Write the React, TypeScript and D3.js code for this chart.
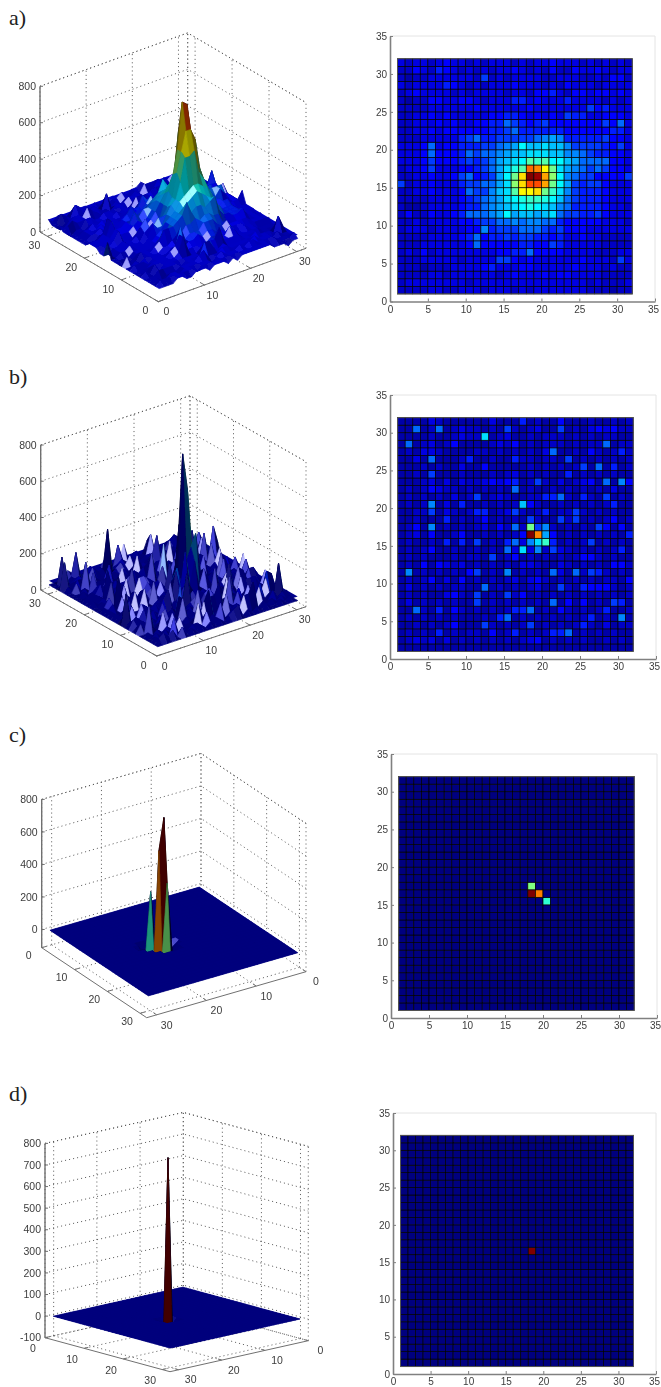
import React, { useEffect, useRef } from "react";
import * as d3 from "d3";

// cell levels, top row (y=31) first, one char per cell, base 36.
// level 35 is the peak of the panel
const rowsA = [
  "4344345443 4344434344 5444343434 3",
  "3354365434 3434454343 5335445434 4",
  "3233444444 3734344443 3444334355 3",
  "4344446543 4344454443 4354443444 4",
  "3454444343 4444344355 6435545545 4",
  "3233554455 4344466454 4464444343 4",
  "3333444444 5444444544 4444475644 4",
  "3344545444 4455665454 5476644555 4",
  "3344454544 5566876567 5555555758 4",
  "3344545555 5566786666 6655555566 4",
  "3334444467 8667777789 a966666755 4",
  "4445845566 67789adbbc bb97777657 4",
  "4445855568 7889abbccc bb99876655 4",
  "4445755567 678abcdgfg ddba888855 4",
  "3445744455 678acegrqm hca9878755 4",
  "3344544578 567adhnzyp id98775555 7",
  "7344544467 788acinssp hda7677544 4",
  "3344544458 779bcgmmnh fc97666544 4",
  "3333444456 789acdeffe db87666544 4",
  "3223444456 689abcdedc b986666544 3",
  "3533544568 889adabbab c877667544 4",
  "3343444455 6778898998 8655555444 3",
  "3444344445 5967778887 6755544444 4",
  "3333444456 8566767766 5644544333 3",
  "3334444445 8555556655 7644444333 3",
  "3435344444 4445566855 5544443334 4",
  "3334444434 4447754544 4444544437 4",
  "3332333444 4564445544 4445444343 3",
  "3333443444 4443454445 4554444333 3",
  "3444444443 4444444444 4444434333 4",
  "3333443344 4344434344 4444433323 3",
];

const rowsB = [
  "2222432222 2242226232 2522232232 3",
  "2282382343 3232732342 2723245453 3",
  "2222322343 3c23422323 3323232332 2",
  "2823423522 2234352323 3323233823 3",
  "2324432222 3323232324 8223253236 3",
  "2242822236 2232263323 3272323232 3",
  "2223232242 2522222323 2323728262 3",
  "2232722232 2232342323 2262323232 2",
  "2223424243 3454562373 2423452829 5",
  "2323543323 2323282322 3232323242 2",
  "2323232423 7234322336 6832632723 2",
  "2323924262 232323b532 2323232362 2",
  "2233724323 6623473236 2337323232 2",
  "2232226232 3523232732 2737232352 3",
  "2352923232 3425383h79 3232327525 2",
  "2342522352 2323235zqa 5232323232 6",
  "2322326262 72326849cf 6232372323 2",
  "2323522322 323284c493 7432323236 2",
  "2323222323 3272352323 2323553232 2",
  "2325254342 3232324432 2432323255 3",
  "2923232325 7232923232 8428376323 2",
  "2323524252 3232342453 2323232332 5",
  "2423232332 2823232342 2732655532 3",
  "2323224532 7232735232 3232323232 3",
  "2423232322 7232323232 8252523276 2",
  "2283262532 3232366823 2532323622 3",
  "2323232322 2326823232 3232362329 2",
  "2232323522 2732323723 2323632423 3",
  "2323262323 3252362323 6682323232 2",
  "2343424232 3232323452 3232322323 2",
  "2222222222 2222222222 2222222222 2",
];

// c and d are flat apart from a few cells, with a slight dip round the peaks
const peaksC = [
  { col: 18, row: 16, value: 780 },
  { col: 19, row: 16, value: 585 },
  { col: 18, row: 17, value: 390 },
  { col: 20, row: 15, value: 328 },
  { col: 17, row: 15, value: -40 },
  { col: 17, row: 16, value: -45 },
  { col: 17, row: 17, value: -40 },
  { col: 18, row: 15, value: -45 },
  { col: 19, row: 15, value: -45 },
  { col: 19, row: 17, value: -45 },
  { col: 20, row: 16, value: -45 },
  { col: 21, row: 15, value: -45 },
  { col: 20, row: 14, value: -45 },
  { col: 19, row: 14, value: -35 },
  { col: 21, row: 14, value: -35 },
  { col: 21, row: 16, value: -35 },
  { col: 20, row: 17, value: -35 },
  { col: 19, row: 18, value: -35 },
  { col: 18, row: 18, value: -35 },
  { col: 17, row: 18, value: -25 },
  { col: 16, row: 16, value: -25 },
  { col: 22, row: 15, value: -25 },
];
const peaksD = [
  { col: 18, row: 16, value: 750 },
  { col: 17, row: 16, value: -30 },
  { col: 19, row: 16, value: -30 },
  { col: 18, row: 15, value: -30 },
  { col: 18, row: 17, value: -30 },
  { col: 17, row: 15, value: -22 },
  { col: 19, row: 15, value: -22 },
  { col: 17, row: 17, value: -22 },
  { col: 19, row: 17, value: -22 },
];

const heatTicks = [0, 5, 10, 15, 20, 25, 30, 35];
const groundTicks = [0, 10, 20, 30];
const zTicksABC = [0, 200, 400, 600, 800];
const zTicksD = [-100, 0, 100, 200, 300, 400, 500, 600, 700, 800];

const N = 31;
const LIM = 32;

const jet = d3
  .scaleLinear<string>()
  .domain([0, 0.125, 0.375, 0.625, 0.875, 1])
  .range(["#00007f", "#0000ff", "#00ffff", "#ffff00", "#ff0000", "#7f0000"])
  .clamp(true);

function gridFromCodes(rows: string[], peak: number) {
  return rows
    .map((r) => r.replace(/ /g, ""))
    .reverse()
    .map((r) =>
      d3.range(N).map((i) => {
        const c = parseInt(r[i] ?? "3", 36);
        return ((c < 8 ? c - 0.6 : c) / 35) * peak;
      })
    );
}

function gridFromPeaks(peaks: { col: number; row: number; value: number }[]) {
  const g = d3.range(N).map(() => d3.range(N).map(() => 0));
  peaks.forEach((p) => (g[p.row - 1][p.col - 1] = p.value));
  return g;
}

const panels = [
  {
    label: "a)", labelY: 25, peak: 740, grid: gridFromCodes(rowsA, 740),
    shade: { relief: 0.6, gain: 0.88, shine: 0.7, power: 90 },
    view: { o: [158.3, 301.7], xEnd: [306, 248.3], yEnd: [40, 232], zDom: [0, 800], zH: 145.7, back: [LIM, LIM], zTicks: zTicksABC, lblL: [-13, 9], lblR: [8, 10] },
    heat: { x0: 390, x1: 655, y0: 301.5, y1: 36 },
  },
  {
    label: "b)", labelY: 384, peak: 780, grid: gridFromCodes(rowsB, 780),
    shade: { relief: 0.3, gain: 0.72, shine: 0.85, power: 45 },
    view: { o: [156.7, 656], xEnd: [306, 606.7], yEnd: [40.7, 590], zDom: [0, 800], zH: 145, back: [LIM, LIM], zTicks: zTicksABC, lblL: [-13, 9], lblR: [8, 10] },
    heat: { x0: 390, x1: 656, y0: 659, y1: 395 },
  },
  {
    label: "c)", labelY: 742, peak: 780, grid: gridFromPeaks(peaksC),
    shade: { relief: 0.6, gain: 1, shine: 0.9, power: 60 },
    view: { o: [201, 901.7], xEnd: [41.7, 947.7], yEnd: [306, 971.7], zDom: [-112, 800], zH: 148.3, back: [0, 0], zTicks: zTicksABC, lblL: [-13, 8], lblR: [10, 10] },
    heat: { x0: 391, x1: 657, y0: 1018, y1: 754 },
  },
  {
    label: "d)", labelY: 1101, peak: 750, grid: gridFromPeaks(peaksD),
    shade: { relief: 0.6, gain: 1, shine: 0.9, power: 60 },
    view: { o: [183.3, 1306.7], xEnd: [45, 1337.7], yEnd: [308.3, 1340.7], zDom: [-100, 800], zH: 194.3, back: [0, 0], zTicks: zTicksD, lblL: [-12, 11], lblR: [12, 10] },
    heat: { x0: 393, x1: 656, y0: 1374, y1: 1113 },
  },
];

type Panel = (typeof panels)[number];

const norm = (v: number[]) => {
  const l = Math.hypot(v[0], v[1], v[2]) || 1;
  return v.map((d) => d / l);
};
const dot = (a: number[], b: number[]) => a[0] * b[0] + a[1] * b[1] + a[2] * b[2];

function drawSurface(root: any, p: Panel) {
  const { view, grid, peak, shade } = p;
  const g = root.append("g").attr("filter", "url(#soft)");
  const xsx = d3.scaleLinear().domain([0, LIM]).range([0, view.xEnd[0] - view.o[0]]);
  const xsy = d3.scaleLinear().domain([0, LIM]).range([0, view.xEnd[1] - view.o[1]]);
  const ysx = d3.scaleLinear().domain([0, LIM]).range([0, view.yEnd[0] - view.o[0]]);
  const ysy = d3.scaleLinear().domain([0, LIM]).range([0, view.yEnd[1] - view.o[1]]);
  const zs = d3.scaleLinear().domain(view.zDom).range([0, view.zH]);
  const project = (x: number, y: number, z: number): [number, number] => [
    view.o[0] + xsx(x) + ysx(y),
    view.o[1] + xsy(x) + ysy(y) - zs(z),
  ];

  const [bx, by] = view.back;
  const fx = LIM - bx;
  const fy = LIM - by;
  const zMin = view.zDom[0];
  const zMax = view.zDom[1];
  const line = d3.line();

  const seg = (pts: [number, number][], cls: string) => {
    const s = g.append("path").attr("d", line(pts)).attr("fill", "none");
    if (cls === "grid") s.attr("stroke", "#555").attr("stroke-width", 0.9).attr("stroke-dasharray", "1.1,3");
    else s.attr("stroke", "#707070").attr("stroke-width", cls === "z" ? 1.4 : 1);
  };

  // back walls and floor
  [...view.zTicks, zMax].forEach((z) =>
    seg([project(fx, by, z), project(bx, by, z), project(bx, fy, z)], "grid")
  );
  [...groundTicks, LIM].forEach((t) => {
    seg([project(t, by, zMin), project(t, by, zMax)], "grid");
    seg([project(bx, t, zMin), project(bx, t, zMax)], "grid");
  });
  groundTicks.forEach((t) => {
    seg([project(t, 0, zMin), project(t, LIM, zMin)], "grid");
    seg([project(0, t, zMin), project(LIM, t, zMin)], "grid");
  });
  seg([project(fx, fy, zMin), project(fx, by, zMin)], "axis");
  seg([project(fx, fy, zMin), project(bx, fy, zMin)], "axis");
  seg([project(fx, by, zMin), project(fx, by, zMax)], "z");

  const corner = project(fx, by, 0)[0];
  view.zTicks.forEach((z) => {
    const [, ty] = project(fx, by, z);
    seg([[corner, ty], [corner + 3, ty]], "axis");
    g.append("text").attr("x", corner - 4).attr("y", ty).attr("dy", "0.35em")
      .attr("text-anchor", "end").text(z);
  });
  const inX = fx === 0 ? 1 : -1;
  const inY = fy === 0 ? 1 : -1;
  groundTicks.forEach((t) => {
    const a = project(fx, t, zMin);
    seg([a, project(fx + inX, t, zMin)], "axis");
    g.append("text").attr("x", a[0] + view.lblL[0]).attr("y", a[1] + view.lblL[1])
      .attr("dy", "0.35em").attr("text-anchor", "middle").text(t);
    const b = project(t, fy, zMin);
    seg([b, project(t, fy + inY, zMin)], "axis");
    g.append("text").attr("x", b[0] + view.lblR[0]).attr("y", b[1] + view.lblR[1])
      .attr("dy", "0.35em").attr("text-anchor", "middle").text(t);
  });
  g.selectAll("text").attr("font-family", "Liberation Sans, Arial, sans-serif")
    .attr("font-size", 10.5).attr("fill", "#3c3c3c");

  // lit surface, farthest faces first. light sits high above the viewer
  const viewer = norm([bx === 0 ? 0.58 : -0.58, by === 0 ? 0.5 : -0.5, 0.64]);
  const light = norm([viewer[0] * 0.4, viewer[1] * 0.4, viewer[2] * 1.5]);
  const halfway = norm([viewer[0] + light[0], viewer[1] + light[1], viewer[2] + light[2]]);
  const zUnit = (LIM / 800) * shade.relief;

  const faces: { d: string; fill: string }[] = [];
  const xs = d3.range(1, N);
  const ys = d3.range(1, N);
  if (bx !== 0) xs.reverse();
  if (by !== 0) ys.reverse();
  ys.forEach((j) =>
    xs.forEach((i) => {
      const z00 = grid[j - 1][i - 1];
      const z10 = grid[j - 1][i];
      const z01 = grid[j][i - 1];
      const z11 = grid[j][i];
      const u = [1, 1, (z11 - z00) * zUnit];
      const v = [-1, 1, (z01 - z10) * zUnit];
      const n = norm([u[1] * v[2] - u[2] * v[1], u[2] * v[0] - u[0] * v[2], u[0] * v[1] - u[1] * v[0]]);
      const base = d3.rgb(jet(z00 / peak));
      const diff = (0.22 + 0.8 * Math.max(0, dot(n, light))) * shade.gain;
      const spec = shade.shine * Math.pow(Math.max(0, dot(n, halfway)), shade.power) * 255 * (n[2] > 0.985 ? 0 : 1);
      const fill = d3.rgb(base.r * diff + spec, base.g * diff + spec, base.b * diff + spec).formatHex();
      const d = line([
        project(i, j, z00),
        project(i + 1, j, z10),
        project(i + 1, j + 1, z11),
        project(i, j + 1, z01),
      ]) + "Z";
      faces.push({ d, fill });
    })
  );
  // underlay closes the hairline seams between faces
  const floorZ = d3.median(grid.flat()) as number;
  const floorDiff = (0.22 + 0.8 * light[2]) * shade.gain;
  const floorBase = d3.rgb(jet(floorZ / peak));
  g.append("path")
    .attr("d", line([project(1, 1, floorZ), project(N, 1, floorZ), project(N, N, floorZ), project(1, N, floorZ)]) + "Z")
    .attr("fill", d3.rgb(floorBase.r * floorDiff, floorBase.g * floorDiff, floorBase.b * floorDiff).formatHex());
  g.append("g").selectAll("path").data(faces).enter().append("path")
    .attr("d", (d) => d.d).attr("fill", (d) => d.fill)
    .attr("stroke", (d) => d.fill).attr("stroke-width", 0.7);
}

function drawHeat(root: any, p: Panel) {
  const { heat, grid, peak } = p;
  const x = d3.scaleLinear().domain([0, 35]).range([heat.x0, heat.x1]);
  const y = d3.scaleLinear().domain([0, 35]).range([heat.y0, heat.y1]);
  const g = root.append("g").attr("filter", "url(#soft)");

  // faint right and top box
  g.append("path").attr("fill", "none").attr("stroke", "#e4e4e4")
    .attr("d", d3.line()([[x(0), y(35)], [x(35), y(35)], [x(35), y(0)]]));

  const cells = grid.flatMap((r, j) => r.map((v, i) => ({ col: i + 1, row: j + 1, v })));
  g.selectAll("rect").data(cells).enter().append("rect")
    .attr("x", (d) => x(d.col)).attr("y", (d) => y(d.row + 1))
    .attr("width", (d) => x(d.col + 1) - x(d.col))
    .attr("height", (d) => y(d.row) - y(d.row + 1))
    .attr("fill", (d) => jet(d.v / peak))
    .attr("stroke", "#000").attr("stroke-width", 0.7);
  g.append("rect").attr("x", x(1)).attr("y", y(32)).attr("width", x(32) - x(1))
    .attr("height", y(1) - y(32)).attr("fill", "none").attr("stroke", "#555").attr("stroke-width", 1);

  const styleAxis = (a: any) => {
    a.select(".domain").attr("stroke", "#808080").attr("stroke-width", 1.6);
    a.selectAll("line").attr("stroke", "#808080");
    a.selectAll("text").attr("fill", "#3c3c3c").attr("font-size", 10)
      .attr("font-family", "Liberation Sans, Arial, sans-serif");
  };
  g.append("g").attr("transform", `translate(0,${heat.y0})`)
    .call(d3.axisBottom(x).tickValues(heatTicks).tickFormat(d3.format("d") as any).tickSizeInner(-3).tickSizeOuter(0).tickPadding(4))
    .call(styleAxis)
    .call((a: any) => a.selectAll("text").filter((d: number) => d === 35).attr("dx", -2));
  g.append("g").attr("transform", `translate(${heat.x0},0)`)
    .call(d3.axisLeft(y).tickValues(heatTicks).tickFormat(d3.format("d") as any).tickSizeInner(-3).tickSizeOuter(0).tickPadding(3))
    .call(styleAxis);
}

export default function App() {
  const svgRef = useRef<SVGSVGElement>(null);

  useEffect(() => {
    const svg = d3.select(svgRef.current);
    svg.selectAll("*").remove();
    svg.append("defs").append("filter").attr("id", "soft")
      .attr("filterUnits", "userSpaceOnUse").attr("x", 0).attr("y", 0)
      .attr("width", 661).attr("height", 1387)
      .append("feGaussianBlur").attr("stdDeviation", 0.45);

    panels.forEach((p) => {
      svg.append("text").attr("x", 9).attr("y", p.labelY).text(p.label)
        .attr("font-family", "Liberation Serif, serif").attr("font-size", 22).attr("fill", "#222");
      drawSurface(svg, p);
      drawHeat(svg, p);
    });
  }, []);

  return (
    <svg
      ref={svgRef}
      width={661}
      height={1387}
      style={{ position: "absolute", left: 0, top: 0, background: "#fff" }}
    />
  );
}
